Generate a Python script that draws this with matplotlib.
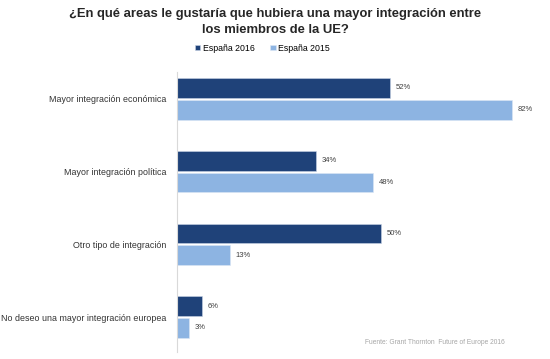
import matplotlib
matplotlib.use('Agg')
import matplotlib.pyplot as plt
import numpy as np

plt.rcParams['font.family'] = ['Liberation Sans', 'DejaVu Sans']

categories = ['Mayor integración económica', 'Mayor integración política',
              'Otro tipo de integración', 'No deseo una mayor integración europea']
espana_2016 = [52, 34, 50, 6]
espana_2015 = [82, 48, 13, 3]
series_names = ['España 2016', 'España 2015']

DARK = '#1F4279'
LIGHT = '#8DB4E2'
TEXT = '#333333'

fig = plt.figure(figsize=(5.5, 3.59), dpi=100, facecolor='white')
ax = fig.add_axes([0.3218, 0.0195, 0.669, 0.78])

y = np.arange(len(categories))
h = 0.27
off = 0.15
b1 = ax.barh(y - off, espana_2016, height=h, color=DARK, edgecolor='#c8d4e6', linewidth=0.4, label=series_names[0])
b2 = ax.barh(y + off, espana_2015, height=h, color=LIGHT, edgecolor='#dbe6f4', linewidth=0.4, label=series_names[1])

for bars, vals in ((b1, espana_2016), (b2, espana_2015)):
    for rect, v in zip(bars, vals):
        ax.text(v + 1.4, rect.get_y() + rect.get_height() / 2, f'{v}%',
                va='center', ha='left', fontsize=5.5, color='#404040')

ax.set_xlim(0, 90)
ax.set_ylim(3.48, -0.37)
ax.set_yticks(y)
ax.set_yticklabels(categories, fontsize=6.4, color=TEXT)
ax.tick_params(axis='y', length=0, pad=7.5)
ax.set_xticks([])
for s in ['top', 'right', 'bottom']:
    ax.spines[s].set_visible(False)
ax.spines['left'].set_color('#d9d9d9')
ax.spines['left'].set_linewidth(0.8)

fig.text(0.5, 0.939, '¿En qué areas le gustaría que hubiera una mayor integración entre\nlos miembros de la UE?',
         ha='center', va='center', fontsize=9.4, fontweight='bold', color='#262626',
         linespacing=1.45)

fig.legend(handles=[b1, b2], loc='center', bbox_to_anchor=(0.477, 0.866), ncol=2,
           frameon=False, fontsize=6.3, handlelength=0.6, handleheight=0.6,
           handletextpad=0.3, columnspacing=1.8)

fig.text(0.917, 0.045, 'Fuente: Grant Thornton  Future of Europe 2016', ha='right', va='center',
         fontsize=4.8, color='#a6a6a6')

fig.savefig('out.png', dpi=100, facecolor='white')
